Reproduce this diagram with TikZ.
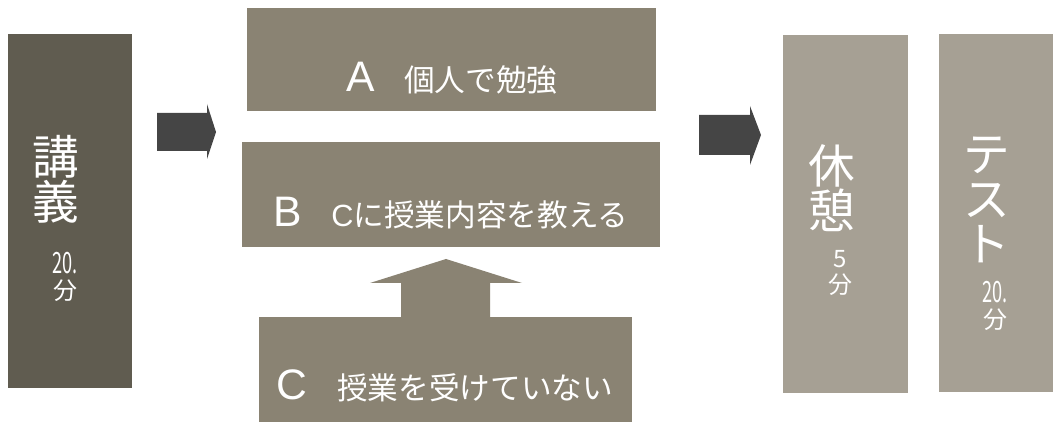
\documentclass[tikz,border=0pt]{standalone}
\usepackage{fontspec}
\setmainfont{Noto Sans CJK JP}
\newfontfamily\letterfont{Liberation Sans}
\usepackage{tikz}
\usetikzlibrary{positioning}
\definecolor{lecturegray}{HTML}{605C50}
\definecolor{taskgray}{HTML}{8A8373}
\definecolor{restgray}{HTML}{A6A094}
\definecolor{arrowgray}{HTML}{454545}

\begin{document}
\begin{tikzpicture}[
  x=0.75pt, y=-0.75pt,
  panel/.style={rectangle, inner sep=0pt, outer sep=0pt, anchor=north west},
  tall/.style={font=\fontsize{35}{34}\selectfont, text=white, align=center, inner sep=0pt},
  mins/.style={font=\fontsize{18}{20}\selectfont, text=white, align=center, inner sep=0pt},
  tasktext/.style={font=\fontsize{23}{23}\selectfont, text=white, inner sep=0pt, anchor=base},
  blockarr/.style={fill=arrowgray},
]
\useasboundingbox (0,0) rectangle (1053,423);

% lecture column
\node[panel, fill=lecturegray, minimum width=93pt, minimum height=265.5pt] (lecture) at (8,34) {};
\node[tall] (lectureName) at (56,179) {講\\義};
\node[mins] (lectureMin) at (65,277) {\scalebox{0.62}[1]{\fontsize{22}{22}\selectfont 20.}\\分};

% arrow into the group work
\fill[blockarr] (157,113) -- (207,113) -- (207,104) -- (216,132) -- (207,159) -- (207,151) -- (157,151) -- cycle;

% group work: A, B, C
\node[panel, fill=taskgray, minimum width=306.75pt, minimum height=77.25pt] (taskA) at (247,8) {};
\node[panel, fill=taskgray, minimum width=313.5pt, minimum height=78.75pt] (taskB) at (242,142) {};
\node[panel, fill=taskgray, minimum width=279.75pt, minimum height=78.75pt] (taskC) at (259,317) {};
\fill[taskgray] (401,318) -- (401,283) -- (370,283) -- (446,259) -- (522,283) -- (490,283) -- (490,318) -- cycle;

\node[tasktext] (textA) at (452,92) {{\letterfont\fontsize{32}{32}\selectfont A}\hspace{22pt}個人で勉強};
\node[tasktext] (textB) at (451,227) {{\letterfont\fontsize{32}{32}\selectfont B}\hspace{22pt}{\letterfont C}に授業内容を教える};
\node[tasktext] (textC) at (445,400) {{\letterfont\fontsize{32}{32}\selectfont C}\hspace{22pt}授業を受けていない};

% arrow out of the group work
\fill[blockarr] (699,115) -- (750,115) -- (750,106) -- (761,135) -- (750,165) -- (750,155) -- (699,155) -- cycle;

% rest and test
\node[panel, fill=restgray, minimum width=93.75pt, minimum height=268.5pt] (rest) at (783,35) {};
\node[tall] (restName) at (832,188) {休\\憩};
\node[mins] (restMin) at (840,273) {5\\分};

\node[panel, fill=restgray, minimum width=85.5pt, minimum height=268.5pt] (test) at (939,34) {};
\node[tall] (testName) at (987,200) {テ\\ス\\ト};
\node[mins] (testMin) at (995,306) {\scalebox{0.62}[1]{\fontsize{22}{22}\selectfont 20.}\\分};

\end{tikzpicture}
\end{document}
